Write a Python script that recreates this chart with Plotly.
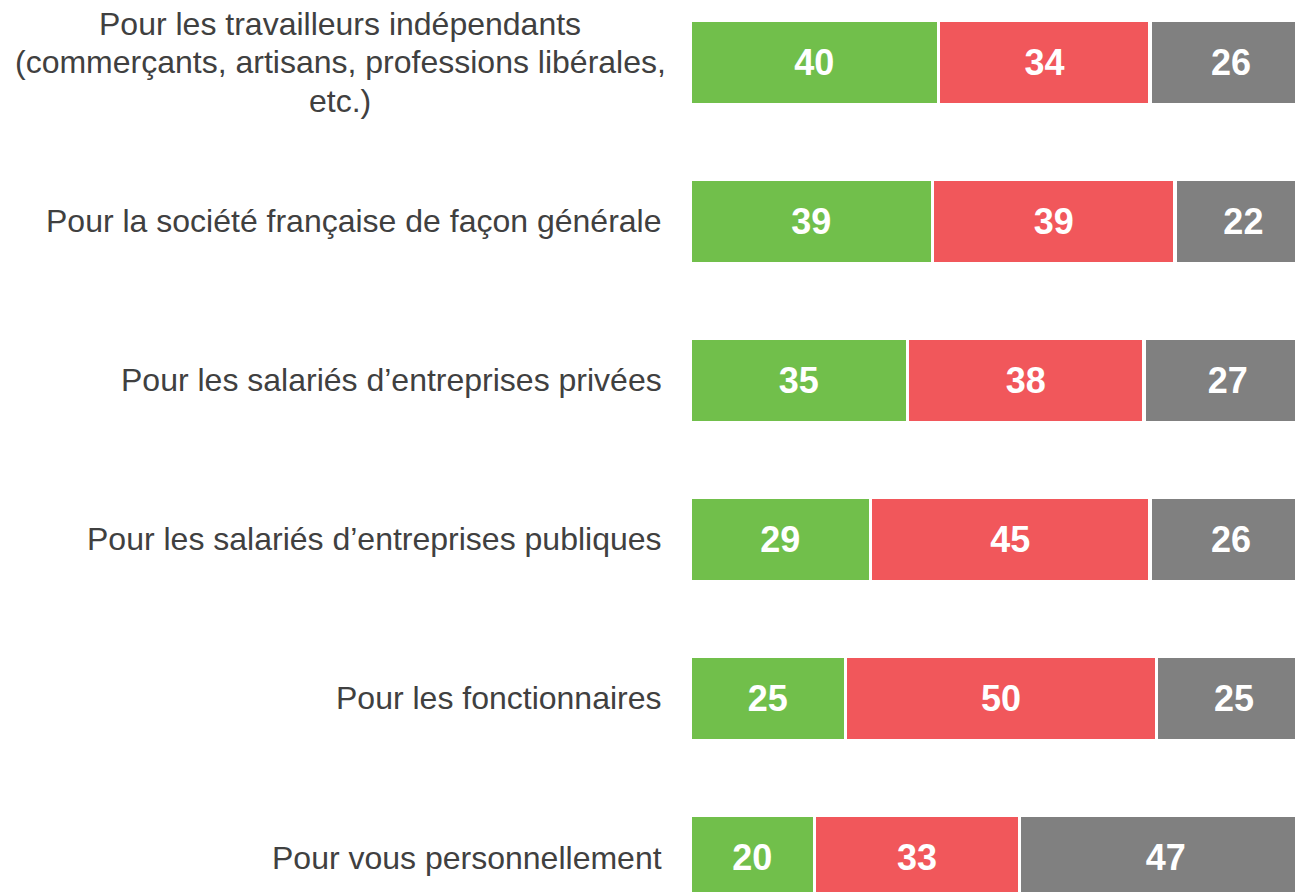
import plotly.graph_objects as go

categories = [
    "Pour les travailleurs indépendants (commerçants, artisans, professions libérales, etc.)",
    "Pour la société française de façon générale",
    "Pour les salariés d’entreprises privées",
    "Pour les salariés d’entreprises publiques",
    "Pour les fonctionnaires",
    "Pour vous personnellement",
]
label_lines = [
    ["Pour les travailleurs indépendants", "(commerçants, artisans, professions libérales,", "etc.)"],
    ["Pour la société française de façon générale"],
    ["Pour les salariés d’entreprises privées"],
    ["Pour les salariés d’entreprises publiques"],
    ["Pour les fonctionnaires"],
    ["Pour vous personnellement"],
]
series_names = ["Positif", "Négatif", "Ne sait pas"]
green_values = [40, 39, 35, 29, 25, 20]
red_values = [34, 39, 38, 45, 50, 33]
gray_values = [26, 22, 27, 26, 25, 47]

colors = ["#71BF4B", "#F1575B", "#808080"]

fig = go.Figure()
for name, vals, col in zip(series_names, [green_values, red_values, gray_values], colors):
    fig.add_trace(go.Bar(
        y=categories, x=vals, orientation="h", name=name,
        marker=dict(color=col, line=dict(color="white", width=3.5)),
        width=0.531,
        text=vals, texttemplate="%{x}",
        textposition="inside", insidetextanchor="middle",
        constraintext="none",
        textfont=dict(family="Liberation Sans, Arial, sans-serif", size=36,
                      color="white", weight="bold"),
        hoverinfo="skip",
    ))

line_gap = 38.5
for cat, lines in zip(categories, label_lines):
    n = len(lines)
    for i, line in enumerate(lines):
        fig.add_annotation(
            x=0, xref="paper", y=cat, yref="y",
            text=line, showarrow=False,
            xanchor="right" if n == 1 else "center", yanchor="middle",
            align="center", xshift=-26 if n == 1 else -350,
            yshift=((n - 1) / 2 - i) * line_gap,
            font=dict(family="Liberation Sans, Arial, sans-serif", size=32, color="#404040"),
        )

fig.update_layout(
    barmode="stack",
    width=1295, height=892,
    margin=dict(l=690, r=0, t=0, b=0),
    paper_bgcolor="white", plot_bgcolor="white",
    showlegend=False,
    xaxis=dict(range=[0, 97.3], visible=False, fixedrange=True),
    yaxis=dict(type="category", categoryorder="array", categoryarray=categories,
               range=[5.217, -0.393], visible=False, fixedrange=True),
)

fig.write_html("out.html", config={"displayModeBar": False},
               post_script="document.body.style.margin='0';")
